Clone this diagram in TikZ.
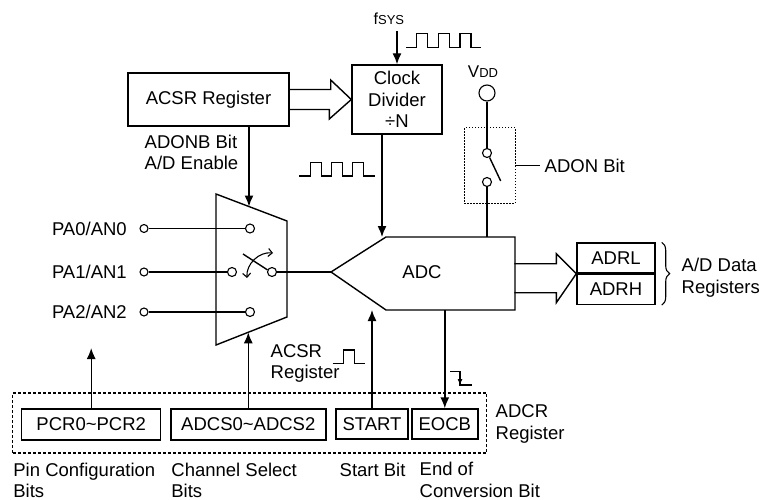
\documentclass[tikz,border=0pt]{standalone}
\usepackage{fontspec}
\setmainfont{Liberation Sans}
\usetikzlibrary{arrows.meta,positioning,decorations.pathreplacing}

\begin{document}
\begin{tikzpicture}
[
    x = 1pt, y = -1pt,
    line width = 1.4pt,
    every node/.style = {font=\fontsize{18.5}{21.5}\selectfont},
    regstyle/.style   = {rectangle,
                         draw,
                         inner sep=0pt},
    lbl/.style        = {inner sep=0pt,
                         align=left},
    pinstyle/.style   = {circle,
                         draw,
                         inner sep=0pt,
                         minimum size=8pt,
                         line width=1.1pt},
    arr/.style        = {-{Latex[length=11pt,width=9pt]}},
    fat/.style        = {line join=miter},
    wave/.style       = {line width=1.1pt}
]

\useasboundingbox (0,0) rectangle (760,500);

% top: ACSR register and clock divider
\node (acsr) [regstyle, minimum width=161pt, minimum height=53pt] at (208.5,99.5) {
ACSR Register
};

\node (clkdiv) [regstyle, minimum width=90pt, minimum height=69pt, align=center] at (397,99.5) {
Clock\\Divider\\÷N
};

\node (fsys) [lbl, anchor=base west] at (373,25) {{\fontsize{16}{16}\selectfont f}{\fontsize{13}{13}\selectfont SYS}};

\draw[arr, shorten <=5pt] (fsys.south -| clkdiv.north) -- (clkdiv.north);

\draw[wave] (406,47.7) -- ++(10.7,0) -- ++(0,-14.4) -- ++(11,0) -- ++(0,14.4)
    -- ++(10.6,0) -- ++(0,-14.4) -- ++(11,0) -- ++(0,14.4)
    -- ++(10.7,0) -- ++(0,-14.4) -- ++(11,0) -- ++(0,14.4) -- ++(9.7,0);

\draw[fat] ([shift={(0,-10)}]acsr.east) -- ++(41,0) -- ++(0,-9.5) -- (clkdiv.west)
    -- ++(-22,19.5) -- ++(0,-9.5) -- ++(-41,0);

\node (adonb) [lbl, anchor=west] at (144,152.5) {ADONB Bit\\A/D Enable};

% multiplexer
\coordinate (muxtl) at (216,194);
\coordinate (muxtr) at (287,221);
\coordinate (muxbr) at (287,317);
\coordinate (muxbl) at (216,345);
\draw (muxtl) -- (muxtr) -- (muxbr) -- (muxbl) -- cycle;

\coordinate (muxen) at (249,206.5);
\draw[arr] (acsr.south -| muxen) -- (muxen);

\node (in0) [pinstyle, minimum size=9pt] at (250,228.5) {};
\node (in1) [pinstyle, minimum size=9pt] at (232,272) {};
\node (in2) [pinstyle, minimum size=9pt] at (250,312) {};
\node (mout) [pinstyle, minimum size=9pt] at (272,272) {};

\node (pin0) [pinstyle] at (144,228.5) {};
\node (pin1) [pinstyle] at (144,272) {};
\node (pin2) [pinstyle] at (144,312) {};

\node (pa0) [lbl, left=12pt of pin0] {PA0/AN0};
\node (pa1) [lbl, left=12pt of pin1] {PA1/AN1};
\node (pa2) [lbl, left=12pt of pin2] {PA2/AN2};

\draw (pin0) -- (in0);
\draw (pin1) -- (in1);
\draw (pin2) -- (in2);

\coordinate (blade) at (243,254);
\draw (mout.155) -- (blade);

\coordinate (swa) at (247,278);
\coordinate (swb) at (273,253);
\draw[{Straight Barb[length=4pt,width=8pt]}-{Straight Barb[length=4pt,width=8pt]}, line width=1.1pt]
    (swa) to[bend left=50] (swb);

% ADC
\coordinate (adctip) at (331,272);
\coordinate (adctl) at (386,237);
\coordinate (adctr) at (515,237);
\coordinate (adcbr) at (515,310);
\coordinate (adcbl) at (386,310);
\draw (adctip) -- (adctl) -- (adctr) -- (adcbr) -- (adcbl) -- cycle;

\node (adc) at (422,272.5) {ADC};

\draw (mout) -- (adctip);

\coordinate (adcclk) at (382,237);
\draw[arr] (clkdiv.south -| adcclk) -- (adcclk);

\draw[wave] (299.3,176) -- ++(11.4,0) -- ++(0,-13.3) -- ++(11,0) -- ++(0,13.3)
    -- ++(10,0) -- ++(0,-13.3) -- ++(10.6,0) -- ++(0,13.3)
    -- ++(10.4,0) -- ++(0,-13.3) -- ++(10.6,0) -- ++(0,13.3) -- ++(11.7,0);

% power switch
\node (vddc) [pinstyle, minimum size=16pt] at (487,93) {};
\node (vdd) [lbl, above=6pt of vddc, xshift=-4pt] {{\fontsize{17}{17}\selectfont V}{\fontsize{13}{13}\selectfont DD}};

\node (sw1) [pinstyle, minimum size=9pt] at (487,153) {};
\node (sw2) [pinstyle, minimum size=9pt] at (487,182) {};

\coordinate (swend) at (500.7,181);
\draw (sw1.-60) -- (swend);
\draw (vddc) -- (sw1);

\coordinate (adcpwr) at (487,237);
\draw (sw2) -- (adcpwr);

\node (adonbox) [rectangle, draw, dash pattern=on 1.5pt off 1.5pt, line width=1pt,
    minimum width=51pt, minimum height=75pt, inner sep=0pt] at (489.5,165.5) {};
\node (adon) [lbl, anchor=west] at (544,165.5) {ADON Bit};
\draw[shorten >=4pt] (adonbox.east) -- (adonbox.east -| adon.west);

% data registers
\node (adrl) [regstyle, minimum width=78pt, minimum height=30pt] at (616,258) {ADRL};
\node (adrh) [regstyle, minimum width=78pt, minimum height=30pt, below=0pt of adrl] {ADRH};

\draw[fat] (adrl.south west) -- ++(-20,-20) -- ++(0,10) -- ++(-42,0);
\draw[fat] (adrl.south west) -- ++(-20,29) -- ++(0,-10) -- ++(-42,0);

\draw[decorate, decoration={brace, amplitude=8pt}, line width=1.1pt]
    ([xshift=6pt]adrl.north east) -- ([xshift=6pt]adrh.south east);
\node (adrlbl) [lbl, anchor=west] at (681,277.5) {A/D Data\\Registers};

% ADCR register
\node (adcr) [rectangle, draw, dash pattern=on 3pt off 2pt, line width=1.1pt,
    minimum width=474pt, minimum height=60pt, inner sep=0pt] at (249.8,423) {};

\node (pcr) [regstyle, minimum width=139pt, minimum height=31pt] at (91.2,424.5) {PCR0\textasciitilde PCR2};
\node (adcs) [regstyle, minimum width=155pt, minimum height=31pt] at (248.3,424.5) {ADCS0\textasciitilde ADCS2};
\node (start) [regstyle, minimum width=72pt, minimum height=30pt] at (372,424) {START};
\node (eocb) [regstyle, minimum width=66pt, minimum height=30pt] at (444.8,424) {EOCB};

\coordinate (pcrend) at (91.2,348);
\draw[arr] (pcr.north) -- (pcrend);

\coordinate (muxsel) at (248.3,332.3);
\draw[arr] (adcs.north) -- (muxsel);

\coordinate (adcstart) at (372,310);
\draw[arr] (start.north) -- (adcstart);

\coordinate (adceoc) at (444.8,310);
\draw[arr] (adceoc) -- (eocb.north);

\draw[wave] (450,371.7) -| (460,385) -- (471.7,385);
\draw[wave, -{Latex[length=6pt,width=5pt]}] (460,374) -- (460,385);

\node (acsrlbl) [lbl, anchor=west] at (270,363.5) {ACSR\\Register};
\draw[wave] (332.7,363.3) -- (343.3,363.3) -- (343.3,350) -- (354.3,350) -- (354.3,363.3) -- (365,363.3);

\node (adcrlbl) [lbl, anchor=west] at (495,424) {ADCR\\Register};

% bit labels
\node (pinlbl) [lbl, anchor=west] at (12.7,480.5) {Pin Configuration\\Bits};
\node (chlbl) [lbl, anchor=west] at (170.7,480.5) {Channel Select\\Bits};
\node (stlbl) [lbl, anchor=west] at (339,469.5) {Start Bit};
\node (eoclbl) [lbl, anchor=west] at (419,480) {End of\\Conversion Bit};

\end{tikzpicture}
\end{document}
